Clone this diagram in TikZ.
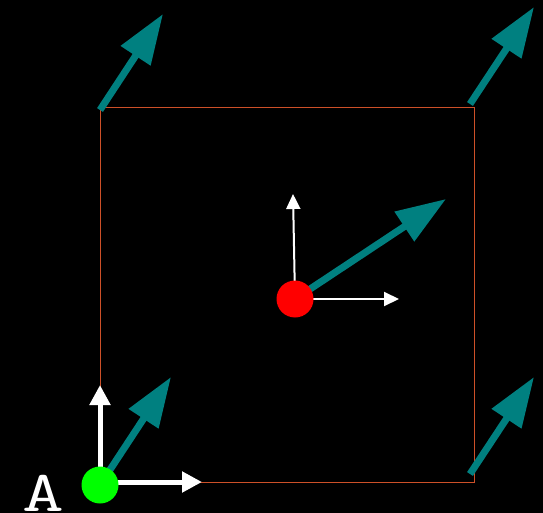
\documentclass[tikz,border=0pt]{standalone}
\usetikzlibrary{arrows.meta}
\definecolor{cellStroke}{RGB}{205,80,40}
\definecolor{momentTeal}{RGB}{0,128,128}
\tikzset{
  cell/.style={draw=cellStroke, line width=1pt},
  atom/.style={circle, inner sep=0pt, minimum size=37pt},
  moment/.style={draw=momentTeal, line width=7pt, -{Triangle[length=50pt,width=34pt]}},
  axisbig/.style={draw=white, line width=5pt, -{Triangle[length=20pt,width=20pt]}},
  axissmall/.style={draw=white, line width=2pt, -{Triangle[length=15pt,width=14pt]}},
  site label/.style={text=white, font=\ttfamily\fontsize{58}{58}\selectfont, inner sep=0pt, anchor=base, xscale=1.4}
}

\begin{document}
\begin{tikzpicture}[x=1pt,y=-1pt]
  \useasboundingbox (0,0) rectangle (543,513);
  \fill[black] (0,0) rectangle (543,513);

  % unit cell
  \draw[cell] (100,108) rectangle (474,482);

  % sites and tips
  \coordinate (cornerTL) at (100,110);
  \coordinate (cornerTR) at (470,104);
  \coordinate (cornerBR) at (470,474);
  \coordinate (siteA) at (100,485);
  \coordinate (baseA) at (100,482);
  \coordinate (siteB) at (295,299);
  \coordinate (tipTL) at (163,14);
  \coordinate (tipTR) at (534,7);
  \coordinate (tipBR) at (534,377);
  \coordinate (tipA) at (171,377);
  \coordinate (tipB) at (446,199);
  \coordinate (upA) at (100,385);
  \coordinate (rightA) at (202,482);
  \coordinate (upB) at (293,194);
  \coordinate (rightB) at (399,299);

  % moments
  \draw[moment] (cornerTL) -- (tipTL);
  \draw[moment] (cornerTR) -- (tipTR);
  \draw[moment] (cornerBR) -- (tipBR);
  \draw[moment] (siteA) -- (tipA);
  \draw[moment] (siteB) -- (tipB);

  % local axes
  \draw[axisbig] (siteA) -- (upA);
  \draw[axisbig] (baseA) -- (rightA);
  \draw[axissmall] (siteB) -- (upB);
  \draw[axissmall] (siteB) -- (rightB);

  % atoms
  \node[atom, fill=green] (atomA) at (siteA) {};
  \node[atom, fill=red] (atomB) at (siteB) {};
  \node[site label] (labelA) at (43,511) {A};
\end{tikzpicture}
\end{document}
